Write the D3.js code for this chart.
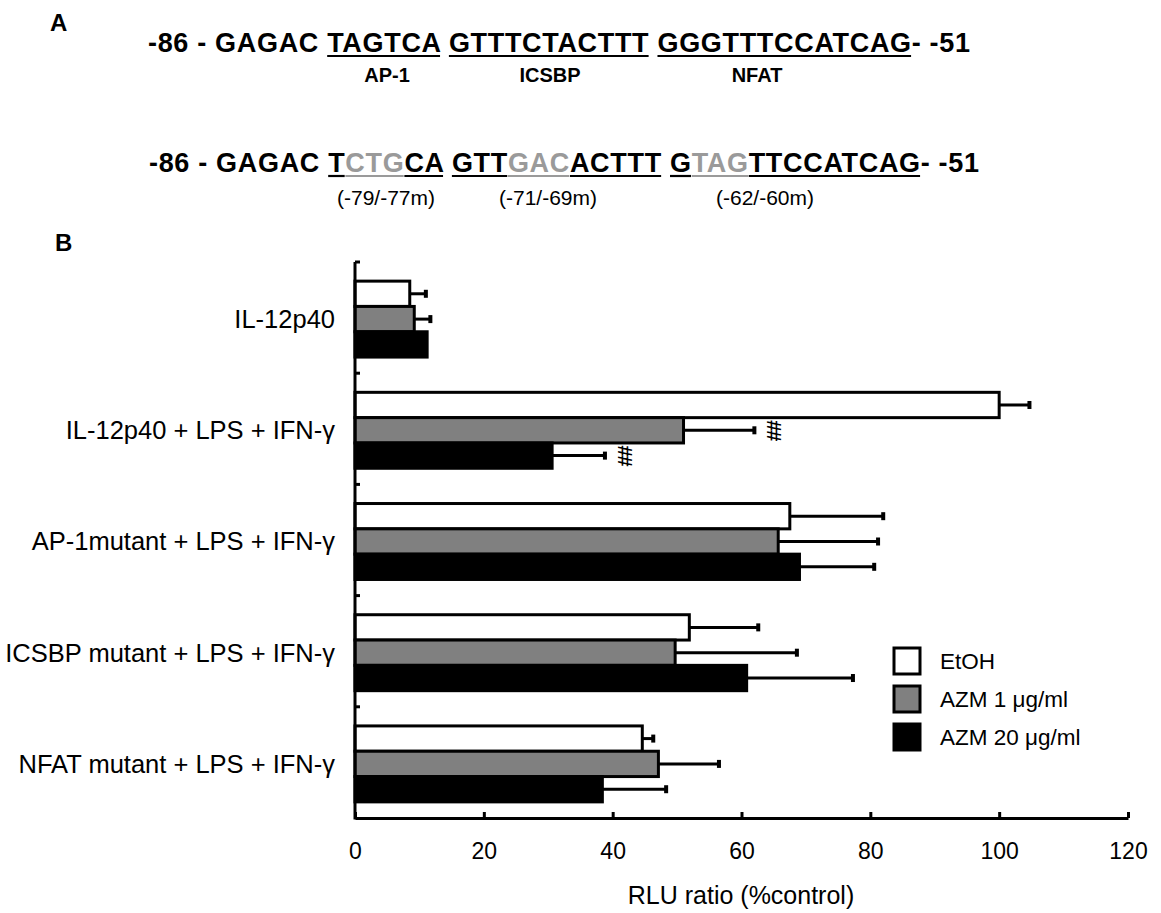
<!DOCTYPE html>
<html><head><meta charset="utf-8">
<script src="https://cdn.jsdelivr.net/npm/d3@7"></script>
<style>
body{margin:0;background:#fff}
svg{display:block}
text{font-family:"Liberation Sans",Arial,Helvetica,sans-serif}
</style>
</head><body>
<svg id="chart" width="1161" height="913"></svg>
<script>
// ---------- data ----------
const categories = ["IL-12p40", "IL-12p40 + LPS + IFN-γ", "AP-1mutant + LPS + IFN-γ", "ICSBP mutant + LPS + IFN-γ", "NFAT mutant + LPS + IFN-γ"];
const seriesNames = ["EtOH", "AZM 1 μg/ml", "AZM 20 μg/ml"];
const seriesFills = ["#ffffff", "#808080", "#000000"];
const etohValues  = [8.5, 100, 67.5, 51.9, 44.6];
const etohErrors  = [2.5, 4.7, 14.5, 10.7, 1.7];
const azm1Values  = [9.2, 51.0, 65.7, 49.7, 47.1];
const azm1Errors  = [2.5, 11.0, 15.5, 18.9, 9.4];
const azm20Values = [11.2, 30.6, 69.0, 60.8, 38.4];
const azm20Errors = [0, 8.2, 11.6, 16.5, 9.9];
const xTicks = [0, 20, 40, 60, 80, 100, 120];
const significance = [{cat: 1, ser: 1, label: "##"}, {cat: 1, ser: 2, label: "##"}];

// promoter sequences (panel A)
const seqWild = [
  {t: "-86 - GAGAC "}, {t: "TAGTCA", u: 1}, {t: " "}, {t: "GTTTCTACTTT", u: 2}, {t: " "},
  {t: "GGGTTTCCATCAG", u: 3}, {t: "- -51"}
];
const seqMutant = [
  {t: "-86 - GAGAC "}, {t: "T", u: 1}, {t: "CTG", u: 1, g: 1}, {t: "CA", u: 1}, {t: " "},
  {t: "GTT", u: 2}, {t: "GAC", u: 2, g: 1}, {t: "ACTTT", u: 2}, {t: " "},
  {t: "G", u: 3}, {t: "TAG", u: 3, g: 1}, {t: "TTCCATCAG", u: 3}, {t: "- -51"}
];
const siteLabels = ["AP-1", "ICSBP", "NFAT"];
const mutLabels = ["(-79/-77m)", "(-71/-69m)", "(-62/-60m)"];

const valueTable = [etohValues, azm1Values, azm20Values];
const errorTable = [etohErrors, azm1Errors, azm20Errors];

const svg = d3.select("#chart");

// ---------- panel A ----------
svg.append("text").attr("x", 50).attr("y", 31).attr("font-size", 24).attr("font-weight", "bold").text("A");
svg.append("text").attr("x", 55).attr("y", 251).attr("font-size", 24).attr("font-weight", "bold").text("B");

function drawSeq(segs, x0, x1, baseline) {
  const t = svg.append("text").attr("x", x0).attr("y", baseline)
    .attr("font-size", 27).attr("font-weight", "bold")
    .attr("textLength", x1 - x0).attr("lengthAdjust", "spacing")
    .style("white-space", "pre");
  const ranges = [];
  let idx = 0;
  segs.forEach(s => {
    t.append("tspan").text(s.t).attr("fill", s.g ? "#9a9a9a" : "#000");
    ranges.push({start: idx, end: idx + s.t.length - 1, s});
    idx += s.t.length;
  });
  const node = t.node();
  ranges.forEach(r => {
    if (!r.s.u) return;
    const a = node.getStartPositionOfChar(r.start).x;
    const b = node.getEndPositionOfChar(r.end).x;
    svg.append("line").attr("x1", a).attr("x2", b)
      .attr("y1", baseline + 4).attr("y2", baseline + 4)
      .attr("stroke", r.s.g ? "#9a9a9a" : "#000").attr("stroke-width", 2.2);
  });
}
drawSeq(seqWild, 148, 970, 52);
drawSeq(seqMutant, 149, 979, 172);

const siteX = [387, 550, 757];
siteLabels.forEach((l, i) => svg.append("text").attr("x", siteX[i]).attr("y", 82)
  .attr("text-anchor", "middle").attr("font-size", 20).attr("font-weight", "bold").text(l));
const mutX = [386, 548, 765];
mutLabels.forEach((l, i) => svg.append("text").attr("x", mutX[i]).attr("y", 205)
  .attr("text-anchor", "middle").attr("font-size", 21).text(l));

// ---------- panel B ----------
const x = d3.scaleLinear().domain([0, 120]).range([355, 1128]);
const y = d3.scaleBand().domain(categories).range([262, 818]);
const bw = y.bandwidth();
const sub = d3.scaleBand().domain(seriesNames).range([bw * 0.172, bw * 0.855]);

const data = [];
categories.forEach((c, ci) => seriesNames.forEach((s, si) => {
  data.push({c, ci, s, si, v: valueTable[si][ci], e: errorTable[si][ci]});
}));

// error bars (behind bars)
const eg = svg.append("g");
data.filter(d => d.e > 0).forEach(d => {
  const cy = y(d.c) + sub(d.s) + sub.bandwidth() / 2;
  eg.append("line").attr("x1", x(d.v)).attr("x2", x(d.v + d.e)).attr("y1", cy).attr("y2", cy)
    .attr("stroke", "#000").attr("stroke-width", 3);
  eg.append("rect").attr("x", x(d.v + d.e) - 2).attr("y", cy - 4).attr("width", 4).attr("height", 8).attr("fill", "#000");
});

svg.append("g").selectAll("rect").data(data).join("rect")
  .attr("x", x(0))
  .attr("y", d => y(d.c) + sub(d.s))
  .attr("width", d => x(d.v) - x(0))
  .attr("height", sub.bandwidth())
  .attr("fill", d => seriesFills[d.si])
  .attr("stroke", "#000").attr("stroke-width", 3);

// significance marks
significance.forEach(m => {
  const d = data.find(k => k.ci === m.cat && k.si === m.ser);
  const cx = x(d.v + d.e) + 20;
  const cy = y(d.c) + sub(d.s) + sub.bandwidth() / 2;
  svg.append("text").attr("transform", `translate(${cx},${cy}) rotate(90)`)
    .attr("text-anchor", "middle").attr("dominant-baseline", "central")
    .attr("font-size", 20).attr("font-weight", "bold").attr("letter-spacing", -1).text(m.label);
});

// x axis
const xAxis = svg.append("g").attr("transform", "translate(0,818)")
  .call(d3.axisBottom(x).tickValues(xTicks).tickSize(-6).tickSizeOuter(0).tickPadding(25));
xAxis.select(".domain").attr("stroke-width", 3);
xAxis.selectAll(".tick line").attr("stroke-width", 3);
xAxis.selectAll(".tick text").attr("font-size", 23).attr("font-family", '"Liberation Sans",Arial,sans-serif');

// y axis
svg.append("line").attr("x1", x(0)).attr("x2", x(0)).attr("y1", y.range()[0]).attr("y2", y.range()[1] + 1.5)
  .attr("stroke", "#000").attr("stroke-width", 3);
svg.append("g").selectAll("line").data(categories).join("line")
  .attr("x1", x(0)).attr("x2", x(0) + 5).attr("y1", d => y(d)).attr("y2", d => y(d))
  .attr("stroke", "#000").attr("stroke-width", 3);
svg.append("g").selectAll("text").data(categories).join("text")
  .attr("x", 335).attr("y", d => y(d) + bw * 0.513)
  .attr("text-anchor", "end").attr("dominant-baseline", "central")
  .attr("font-size", 25.5).text(d => d);

svg.append("text").attr("x", 741).attr("y", 895).attr("text-anchor", "middle")
  .attr("dominant-baseline", "central").attr("font-size", 25).text("RLU ratio (%control)");

// legend
const lg = svg.append("g");
seriesNames.forEach((s, i) => {
  const ly = 648 + i * 38;
  lg.append("rect").attr("x", 894).attr("y", ly).attr("width", 26).attr("height", 26)
    .attr("fill", seriesFills[i]).attr("stroke", "#000").attr("stroke-width", 3);
  lg.append("text").attr("x", 940).attr("y", ly + 13).attr("dominant-baseline", "central")
    .attr("font-size", 22.5).text(s);
});
</script>
</body></html>
